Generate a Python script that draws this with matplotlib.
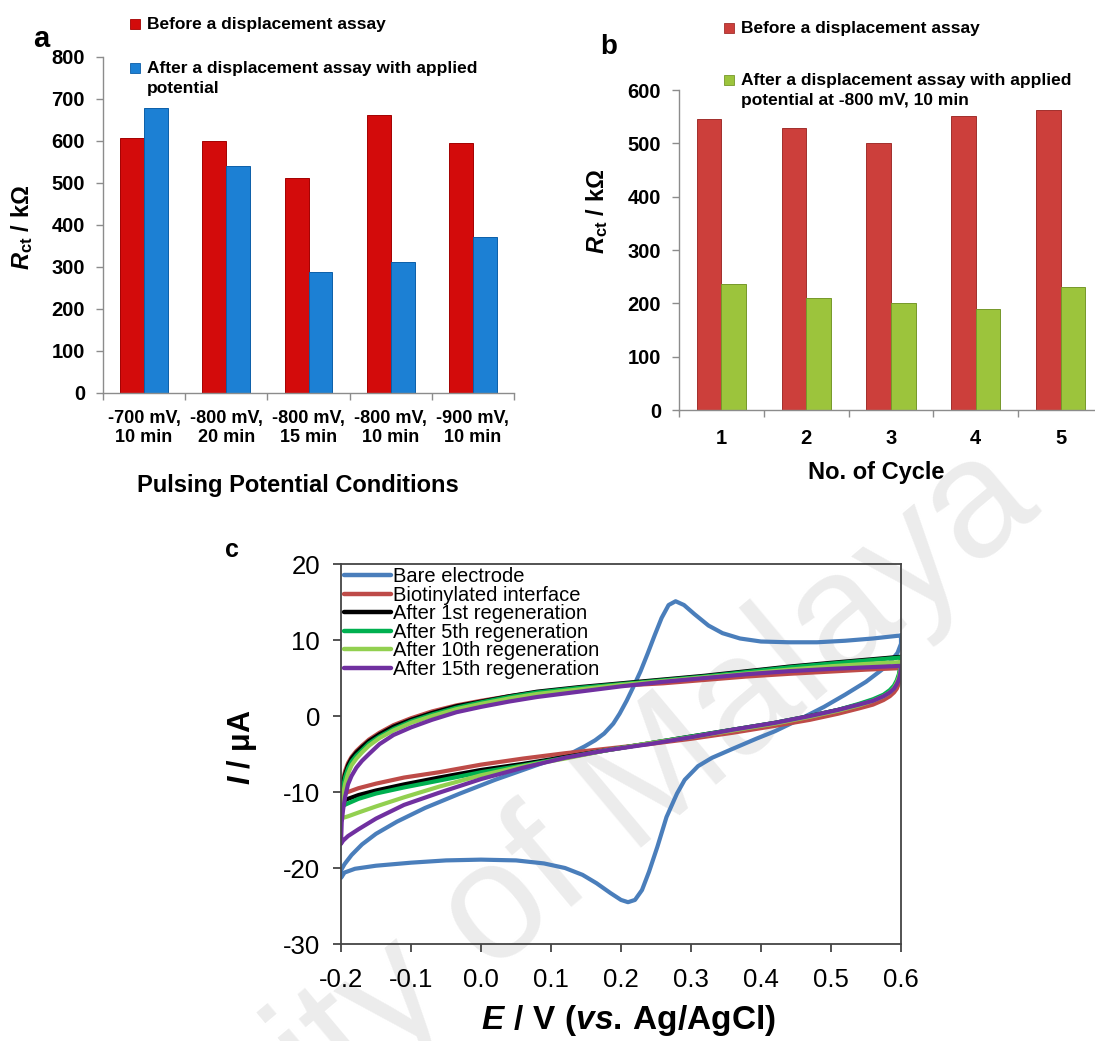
import matplotlib
matplotlib.use("Agg")
import matplotlib.pyplot as plt
from matplotlib.patches import Rectangle
import numpy as np

plt.rcParams['font.family'] = ['Liberation Sans', 'DejaVu Sans']
plt.rcParams['mathtext.fontset'] = 'custom'
plt.rcParams['mathtext.rm'] = 'Liberation Sans:bold'
plt.rcParams['mathtext.it'] = 'Liberation Sans:italic:bold'
plt.rcParams['mathtext.bf'] = 'Liberation Sans:bold'
plt.rcParams['axes.unicode_minus'] = False

# ---- panel a: pulsing potential conditions ----
conditions = ['-700 mV,\n10 min', '-800 mV,\n20 min', '-800 mV,\n15 min',
              '-800 mV,\n10 min', '-900 mV,\n10 min']
rct_before_a = [606, 599, 513, 663, 595]
rct_after_a = [678, 541, 288, 311, 371]

# ---- panel b: regeneration cycles ----
cycles = ['1', '2', '3', '4', '5']
rct_before_b = [545, 528, 500, 551, 563]
rct_after_b = [236, 210, 201, 190, 231]

# ---- panel c: cyclic voltammograms ----
# bare electrode loop, traced from the 0.6 V vertex
bare_E = [0.600, 0.560, 0.520, 0.480, 0.440, 0.400, 0.370, 0.345, 0.325, 0.305,
          0.290, 0.278, 0.268, 0.258, 0.248, 0.238, 0.228, 0.218, 0.208, 0.198,
          0.189, 0.176, 0.163, 0.148, 0.131, 0.100, 0.060, 0.020, -0.030, -0.080,
          -0.120, -0.150, -0.170, -0.185, -0.195, -0.200,
          -0.200, -0.195, -0.180, -0.150, -0.100, -0.050, 0.000, 0.050, 0.090, 0.120,
          0.145, 0.165, 0.185, 0.200, 0.210, 0.220, 0.230, 0.240, 0.252, 0.265,
          0.280, 0.291, 0.310, 0.330, 0.360, 0.393, 0.420, 0.456, 0.490, 0.520,
          0.550, 0.580, 0.595, 0.600, 0.600]
bare_I = [10.6, 10.2, 9.9, 9.7, 9.7, 9.8, 10.2, 10.9, 11.9, 13.4,
          14.6, 15.1, 14.6, 12.9, 10.6, 8.2, 5.9, 3.9, 2.0, 0.3,
          -1.0, -2.3, -3.2, -4.0, -4.8, -5.8, -7.1, -8.4, -10.2, -12.1,
          -13.9, -15.5, -16.9, -18.3, -19.5, -20.3,
          -21.3, -20.6, -20.1, -19.7, -19.3, -19.0, -18.9, -19.0, -19.4, -20.0,
          -20.9, -22.0, -23.3, -24.2, -24.5, -24.2, -22.9, -20.5, -17.2, -13.3,
          -10.2, -8.4, -6.6, -5.5, -4.3, -3.0, -2.0, -0.4, 1.2, 2.8,
          4.5, 6.6, 8.3, 9.5, 10.6]

# potential grid shared by the modified electrodes (forward sweep, then reverse)
E_fwd = [-0.200, -0.199, -0.197, -0.194, -0.190, -0.185, -0.178, -0.170, -0.160,
         -0.145, -0.125, -0.100, -0.070, -0.035, 0.000, 0.040, 0.080, 0.140,
         0.200, 0.260, 0.320, 0.380, 0.440, 0.500, 0.550, 0.600]
E_rev = [0.600, 0.599, 0.597, 0.594, 0.590, 0.584, 0.575, 0.560, 0.540, 0.510,
         0.470, 0.420, 0.360, 0.300, 0.240, 0.180, 0.120, 0.060, 0.000, -0.060,
         -0.110, -0.150, -0.175, -0.190, -0.197, -0.200]

biotin_I = [-10.5, -9.3, -8.3, -7.2, -6.2, -5.4, -4.6, -3.9, -3.1, -2.2, -1.2, -0.3, 0.6,
            1.4, 2.0, 2.6, 3.1, 3.6, 4.0, 4.3, 4.75, 5.2, 5.55, 5.85, 6.1, 6.3,
            6.3, 5.2, 4.3, 3.6, 3.1, 2.6, 2.1, 1.5, 1.0, 0.3, -0.5, -1.3, -2.2,
            -3.0, -3.7, -4.3, -4.9, -5.6, -6.4, -7.4, -8.1, -8.9, -9.5, -10.0, -10.3, -10.5]
regen1_I = [-11.4, -10.0, -8.8, -7.6, -6.5, -5.6, -4.8, -4.1, -3.3, -2.4, -1.4, -0.5, 0.4,
            1.3, 1.9, 2.6, 3.2, 3.8, 4.3, 4.8, 5.3, 5.9, 6.5, 7.0, 7.4, 7.8,
            7.8, 6.2, 5.2, 4.4, 3.8, 3.2, 2.7, 2.1, 1.5, 0.8, 0.0, -0.9, -1.8,
            -2.7, -3.6, -4.5, -5.4, -6.3, -7.1, -8.1, -9.0, -9.8, -10.4, -10.9, -11.2, -11.4]
regen5_I = [-12.0, -10.6, -9.3, -8.0, -6.9, -6.0, -5.2, -4.5, -3.6, -2.7, -1.7, -0.7, 0.2,
            1.1, 1.8, 2.5, 3.1, 3.7, 4.2, 4.7, 5.2, 5.8, 6.4, 6.9, 7.3, 7.7,
            7.7, 6.4, 5.5, 4.7, 4.0, 3.4, 2.8, 2.2, 1.6, 0.8, 0.0, -0.9, -1.8,
            -2.7, -3.6, -4.5, -5.5, -6.5, -7.4, -8.5, -9.4, -10.2, -10.9, -11.5, -11.8, -12.0]
regen10_I = [-13.5, -11.8, -10.3, -8.9, -7.6, -6.5, -5.6, -4.8, -3.9, -2.9, -1.9, -0.9, 0.0,
             0.9, 1.6, 2.3, 2.9, 3.5, 4.1, 4.6, 5.1, 5.6, 6.1, 6.55, 6.85, 7.1,
             7.1, 6.0, 5.1, 4.4, 3.7, 3.1, 2.6, 2.0, 1.4, 0.7, -0.1, -1.0, -1.9,
             -2.8, -3.6, -4.5, -5.6, -6.6, -7.8, -9.3, -10.7, -11.9, -12.7, -13.2, -13.4, -13.5]
regen15_I = [-16.8, -14.0, -12.3, -10.6, -9.0, -7.9, -6.8, -5.9, -5.0, -3.7, -2.5, -1.5, -0.5,
             0.5, 1.2, 1.9, 2.5, 3.2, 3.9, 4.5, 5.0, 5.5, 5.9, 6.2, 6.4, 6.6,
             6.6, 5.6, 4.8, 4.2, 3.6, 3.1, 2.6, 2.0, 1.5, 0.8, 0.0, -0.9, -1.8,
             -2.8, -3.7, -4.5, -5.5, -6.8, -8.3, -10.1, -11.7, -13.5, -14.9, -15.8, -16.4, -16.8]

W, H = 1095, 1041
fig = plt.figure(figsize=(W / 100, H / 100), dpi=100)
fig.patch.set_facecolor('white')


def fx(x):
    return x / W


def fy(y):
    return 1 - y / H


# faint repository watermark behind everything
fig.text(0.402, 0.078, 'University of Malaya', fontsize=120, color='#ececec',
         rotation=40, rotation_mode='anchor', ha='center', va='center', zorder=-5)


def bar_panel(ax, labels, before, after, c1, e1, c2, e2, ymax, ystep):
    x = np.arange(len(labels))
    w = 0.29
    ax.bar(x - w / 2, before, w, color=c1, edgecolor=e1, linewidth=0.7)
    ax.bar(x + w / 2, after, w, color=c2, edgecolor=e2, linewidth=0.7)
    ax.set_xlim(-0.5, len(labels) - 0.5)
    ax.set_ylim(0, ymax)
    ax.set_yticks(np.arange(0, ymax + 1, ystep))
    ax.set_xticks(x)
    ax.set_xticks(np.arange(-0.5, len(labels)), minor=True)
    ax.set_xticklabels(labels)
    ax.set_facecolor('none')
    for s in ['top', 'right']:
        ax.spines[s].set_visible(False)
    for s in ['left', 'bottom']:
        ax.spines[s].set_color('#8c8c8c')
        ax.spines[s].set_linewidth(1.0)
    ax.tick_params(axis='y', direction='out', length=5, width=1, color='#8c8c8c',
                   labelsize=14.5, pad=8)
    ax.tick_params(axis='x', which='major', length=0, pad=12)
    ax.tick_params(axis='x', which='minor', direction='out', length=5, width=1,
                   color='#8c8c8c')
    for t in ax.get_yticklabels() + ax.get_xticklabels():
        t.set_fontweight('bold')


# ---- panel a ----
ax_a = fig.add_axes([fx(103), fy(393), (514 - 103) / W, (393 - 57) / H])
bar_panel(ax_a, conditions, rct_before_a, rct_after_a,
          '#d30b0b', '#a30000', '#1c80d4', '#0b5ea8', 800, 100)
for t in ax_a.get_xticklabels():
    t.set_fontsize(13)
ax_a.set_xlabel('Pulsing Potential Conditions', fontsize=17, fontweight='bold', va='center')
ax_a.xaxis.set_label_coords(0.474, -0.274)
ax_a.set_ylabel(r'$\mathit{R}_{\mathrm{ct}}$ / kΩ', fontsize=17, fontweight='bold', va='center')
ax_a.yaxis.set_label_coords(-0.197, 0.494)

# ---- panel b ----
ax_b = fig.add_axes([fx(679), fy(410), 424 / W, 320 / H])
bar_panel(ax_b, cycles, rct_before_b, rct_after_b,
          '#cc3f3b', '#a12f2c', '#9cc43c', '#76982a', 600, 100)
for t in ax_b.get_xticklabels():
    t.set_fontsize(14.5)
ax_b.tick_params(axis='x', which='major', pad=14)
ax_b.set_xlabel('No. of Cycle', fontsize=17, fontweight='bold', va='center')
ax_b.xaxis.set_label_coords(0.465, -0.194)
ax_b.set_ylabel(r'$\mathit{R}_{\mathrm{ct}}$ / kΩ', fontsize=17, fontweight='bold', va='center')
ax_b.yaxis.set_label_coords(-0.193, 0.622)

# custom legends above the bar panels
def key(x, y, color, edge, lines):
    fig.add_artist(Rectangle((fx(x - 5), fy(y + 5)), 10 / W, 10 / H,
                             transform=fig.transFigure, facecolor=color,
                             edgecolor=edge, linewidth=0.6))
    for i, line in enumerate(lines):
        fig.text(fx(x + 12), fy(y + 21 * i), line, fontsize=12.5, fontweight='bold',
                 ha='left', va='center')


key(135, 24, '#d30b0b', '#a30000', ['Before a displacement assay'])
key(135, 68, '#1c80d4', '#0b5ea8', ['After a displacement assay with applied', 'potential'])
key(729, 28, '#cc3f3b', '#a12f2c', ['Before a displacement assay'])
key(729, 80, '#9cc43c', '#76982a', ['After a displacement assay with applied',
                                    'potential at -800 mV, 10 min'])

# ---- panel c ----
ax_c = fig.add_axes([fx(341), fy(944), 560 / W, 380 / H])
ax_c.set_facecolor('none')
cv_E = E_fwd + E_rev
ax_c.plot(bare_E, bare_I, color='#4a7ebb', lw=3, label='Bare electrode')
ax_c.plot(cv_E, biotin_I, color='#be4b48', lw=3, label='Biotinylated interface')
ax_c.plot(cv_E, regen1_I, color='#000000', lw=3, label='After 1st regeneration')
ax_c.plot(cv_E, regen5_I, color='#00b050', lw=3, label='After 5th regeneration')
ax_c.plot(cv_E, regen10_I, color='#92d050', lw=3, label='After 10th regeneration')
ax_c.plot(cv_E, regen15_I, color='#7030a0', lw=3, label='After 15th regeneration')
for ln in ax_c.get_lines():
    ln.set_solid_capstyle('round')
    ln.set_solid_joinstyle('round')

ax_c.set_xlim(-0.2, 0.6)
ax_c.set_ylim(-30, 20)
ax_c.set_xticks(np.arange(-0.2, 0.61, 0.1))
ax_c.set_xticklabels([f'{v:.1f}' for v in np.arange(-0.2, 0.61, 0.1)])
ax_c.set_yticks(np.arange(-30, 21, 10))
for s in ax_c.spines.values():
    s.set_color('#444444')
    s.set_linewidth(1.3)
ax_c.tick_params(direction='out', length=6, width=1.3, color='#444444', labelsize=18.5)
ax_c.tick_params(axis='x', pad=11)
ax_c.tick_params(axis='y', pad=9)
ax_c.set_xlabel(r'$\mathit{E}\ /\ \mathrm{V}\ (\mathit{vs.}\,\mathrm{Ag/AgCl})$', fontsize=24,
                va='center')
ax_c.xaxis.set_label_coords(0.5125, -0.2)
ax_c.set_ylabel(r'$\mathit{I}$ / μA', fontsize=22, fontweight='bold', va='center')
ax_c.yaxis.set_label_coords(-0.177, 0.518)

leg = ax_c.legend(loc='upper left', bbox_to_anchor=(0.0, 1.0), frameon=False,
                  fontsize=14.5, handlelength=2.35, handletextpad=0.1,
                  labelspacing=-0.02, borderpad=0.15, borderaxespad=0.0)
for h in leg.get_lines():
    h.set_linewidth(3.2)
    h.set_solid_capstyle('round')

# panel letters
fig.text(fx(41), fy(39), 'a', fontsize=21, fontweight='bold', ha='center', va='center')
fig.text(fx(609), fy(47), 'b', fontsize=20, fontweight='bold', ha='center', va='center')
fig.text(fx(232), fy(550), 'c', fontsize=18, fontweight='bold', ha='center', va='center')

fig.savefig('out.png', dpi=100)
